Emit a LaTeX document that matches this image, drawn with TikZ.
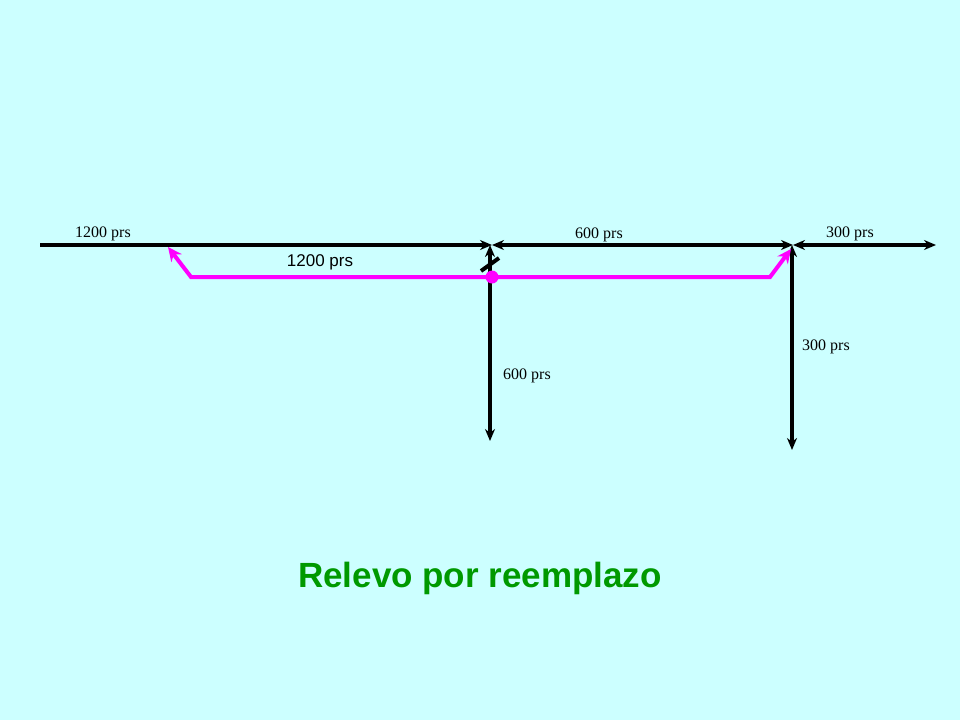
\documentclass[tikz,border=0pt]{standalone}
\usepackage{fontspec}
\setmainfont{Liberation Serif}
\newfontfamily\sansf{Liberation Sans}
\usetikzlibrary{arrows.meta}
\definecolor{bg}{RGB}{204,255,255}
\definecolor{mag}{RGB}{255,0,255}
\definecolor{grn}{RGB}{0,153,0}
\begin{document}
\begin{tikzpicture}[x=1pt,y=-1pt,
  blk/.style={line width=3.6pt,-{Stealth[length=12pt,width=10pt]}},
  blk2/.style={line width=3.6pt,{Stealth[length=12pt,width=10pt]}-{Stealth[length=12pt,width=10pt]}},
  pk/.style={line width=4pt,mag},
  lbl/.style={font=\fontsize{16}{18}\selectfont}]
\fill[bg] (0,0) rectangle (960,720);
\useasboundingbox (0,0) rectangle (960,720);
\coordinate (a) at (40,245);
\coordinate (b) at (492,245);
\coordinate (c) at (793,245);
\coordinate (d) at (936,245);
\coordinate (b2) at (490,441);
\coordinate (c2) at (792,450);
\draw[blk] (a) -- (b);
\draw[blk2] (b) -- (c);
\draw[blk2] (c) -- (d);
\draw[blk2] (b2) -- (490,245);
\draw[blk2] (c2) -- (792,245);
\coordinate (p1) at (168,247);
\coordinate (p2) at (191,277);
\coordinate (p3) at (770,277);
\coordinate (p4) at (791,249);
\draw[pk,{Stealth[length=14pt,width=13pt]}-{Stealth[length=14pt,width=13pt]}] (p1) -- (p2) -- (p3) -- (p4);
\node[circle,fill=mag,inner sep=0pt,minimum size=13pt] (dot) at (492,277) {};
\draw[line width=4pt] (481,271) -- (499,258);
\node[lbl] (l1) at (103,234) {1200 prs};
\node[lbl] (l2) at (599,235) {600 prs};
\node[lbl] (l3) at (850,234) {300 prs};
\node[font=\sansf\fontsize{17}{19}\selectfont] (l4) at (320,262) {1200 prs};
\node[lbl] (l5) at (826,347) {300 prs};
\node[lbl] (l6) at (527,376) {600 prs};
\node[font=\sansf\bfseries\fontsize{35}{40}\selectfont,text=grn] (t) at (480,578) {Relevo por reemplazo};
\end{tikzpicture}
\end{document}
